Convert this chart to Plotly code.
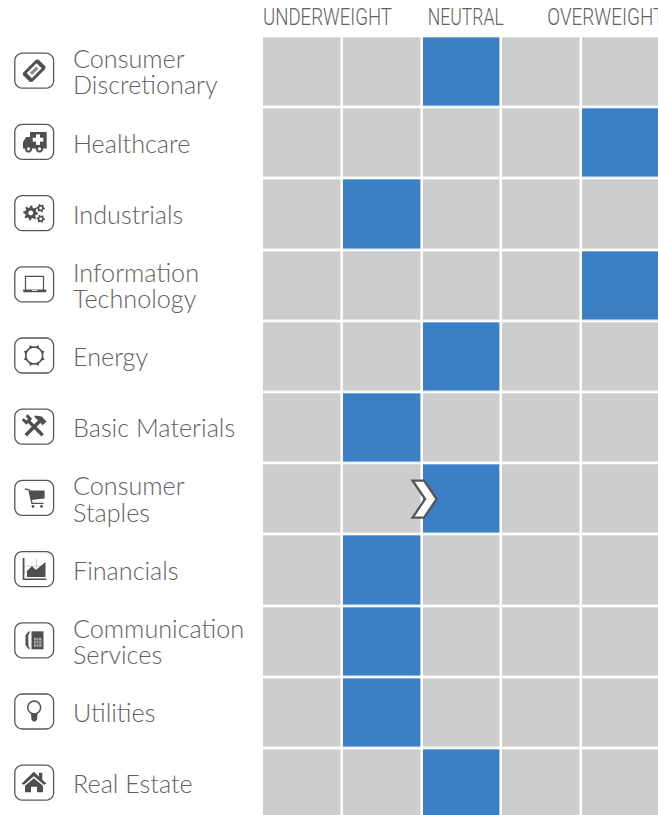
import math
import plotly.graph_objects as go

W, H = 658, 815
sectors = [
    ["Consumer", "Discretionary"], ["Healthcare"], ["Industrials"],
    ["Information", "Technology"], ["Energy"], ["Basic Materials"],
    ["Consumer", "Staples"], ["Financials"], ["Communication", "Services"],
    ["Utilities"], ["Real Estate"],
]
positions = [2, 4, 1, 4, 2, 1, 2, 1, 1, 1, 2]
previous_row = 6
previous_col = 2
headers = ["UNDERWEIGHT", "NEUTRAL", "OVERWEIGHT"]
header_x = [327.5, 465.5, 605.5]
header_w = [129, 76, 117]

GRAY, BLUE, DARK, TXT = "#CDCDCE", "#3B80C4", "#4D4F50", "#5F6163"
LEFT, TOP, PX, PY = 262, 36.3, 79.8, 71.2
z = [[1 if c == p else 0 for c in range(5)] for p in positions]

fig = go.Figure(go.Heatmap(
    z=z, x=list(range(5)), y=list(range(len(sectors))),
    colorscale=[[0, GRAY], [1, BLUE]], zmin=0, zmax=1, showscale=False,
    xgap=2.6, ygap=2.6, hoverinfo="skip"))

X = lambda v: v / W
Y = lambda v: 1 - v / H
shapes = []


def poly(pts, fill=DARK, line=None, lw=0, close=True):
    d = "M" + " L".join(f"{X(a):.5f},{Y(b):.5f}" for a, b in pts) + (" Z" if close else "")
    shapes.append(dict(type="path", xref="paper", yref="paper", path=d,
                       fillcolor=fill if close else "rgba(0,0,0,0)",
                       line=dict(color=line or "rgba(0,0,0,0)", width=lw)))


def circ(cx, cy, r, **k):
    poly([(cx + r * math.cos(i * math.pi / 14), cy + r * math.sin(i * math.pi / 14)) for i in range(28)], **k)


def rrect(x0, y0, x1, y1, r):
    pts = []
    for cx, cy, a in [(x1 - r, y0 + r, -90), (x1 - r, y1 - r, 0), (x0 + r, y1 - r, 90), (x0 + r, y0 + r, 180)]:
        for i in range(7):
            t = math.radians(a + i * 15)
            pts.append((cx + r * math.cos(t), cy + r * math.sin(t)))
    poly(pts, fill="white", line="#55585A", lw=1.3)


def gear(cx, cy, r, teeth, hole, col=DARK):
    pts = []
    for i in range(teeth * 4):
        t = 2 * math.pi * i / (teeth * 4)
        pts.append((cx + (r if i % 4 < 2 else r * .72) * math.cos(t), cy + (r if i % 4 < 2 else r * .72) * math.sin(t)))
    poly(pts, fill=col)
    circ(cx, cy, hole, fill="white")


def rect(x0, y0, x1, y1, **k):
    poly([(x0, y0), (x1, y0), (x1, y1), (x0, y1)], **k)


def rot(cx, cy, pts, deg):
    t = math.radians(deg)
    return [(cx + a * math.cos(t) - b * math.sin(t), cy + a * math.sin(t) + b * math.cos(t)) for a, b in pts]


CX = 34.2
CY0, CP = 70.7, 71.2
for i in range(len(sectors)):
    rrect(14.8, CY0 + i * CP - 17.5, 53.6, CY0 + i * CP + 17.5, 7.5)
cy = lambda i: CY0 + i * CP

# ticket
c = cy(0)
poly(rot(CX, c, [(-11, -5), (-9, -6.5), (9, -6.5), (11, -5), (11, 5), (9, 6.5), (-9, 6.5), (-11, 5)], -45))
poly(rot(CX, c, [(-7, -3.6), (7, -3.6), (7, 3.6), (-7, 3.6)], -45), fill="white")
poly(rot(CX, c, [(-4.5, -1.6), (4.5, -1.6), (4.5, 1.6), (-4.5, 1.6)], -45), fill="#8a8c8e")
# ambulance
c = cy(1)
poly([(30, c - 10), (46.7, c - 10), (46.7, c + 6.5), (23, c + 6.5), (23, c + 0), (26, c - 5), (30, c - 5)])
rect(36, c - 7.5, 40, c + 3, fill="white")
rect(32.7, c - 4.2, 43.3, c - .3, fill="white")
for wx in (28.5, 39.5):
    circ(wx, c + 7, 3.6, fill=DARK)
    circ(wx, c + 7, 1.6, fill="white")
# gears
c = cy(2)
gear(30.7, c - .2, 7.5, 8, 2.4)
gear(40.7, c - 5, 4.2, 6, 1.4)
gear(40.7, c + 5.7, 4.2, 6, 1.4)
# laptop
c = cy(3)
rect(25.5, c - 8, 43.5, c + 6, fill="white", line=DARK, lw=1.2)
poly([(22.8, c + 5.5), (46.8, c + 5.5), (46, c + 8), (23.6, c + 8)])
rect(32, c + 5.8, 37, c + 6.6, fill="white")
# energy
c = cy(4)
for k in range(8):
    t = k * math.pi / 4 + math.pi / 8
    poly([(CX + 11.3 * math.cos(t), c + 11.3 * math.sin(t)),
          (CX + 8 * math.cos(t + .32), c + 8 * math.sin(t + .32)),
          (CX + 8 * math.cos(t - .32), c + 8 * math.sin(t - .32))])
circ(CX, c, 8.4, fill="white", line=DARK, lw=1.6)
# tools: wrench (up-left head) and hammer (up-right head)
c = cy(5)
poly(rot(CX, c, [(-12, -1.7), (9, -1.7), (9, 1.7), (-12, 1.7)], 225))
poly(rot(CX, c, [(7, -4.2), (13.5, -4.2), (13.5, -1.4), (10, -1.2), (10, 1.2), (13.5, 1.4), (13.5, 4.2), (7, 4.2)], 225))
poly(rot(CX, c, [(-12, -1.7), (8, -1.7), (8, 1.7), (-12, 1.7)], -45))
poly(rot(CX, c, [(7, -7), (9, -7), (12.5, -2), (12.5, 5), (7, 5)], -45))
# cart
c = cy(6)
poly([(24.8, c - 9), (29, c - 8), (32, c + 5.5), (43.5, c + 5.5)], line=DARK, lw=1.4, close=False)
poly([(29, c - 7.5), (44.6, c - 7.5), (44.6, c + .5), (31, c + 2)])
circ(33, c + 8.5, 1.4, fill=DARK)
circ(41.5, c + 8.5, 1.4, fill=DARK)
# financials
c = cy(7)
for g in (-3, 3):
    poly([(30.5 + g * 2, c - 11), (30.5 + g * 2, c + 5)], line="#C8C9CA", lw=.8, close=False)
    poly([(25, c + g), (45, c + g)], line="#C8C9CA", lw=.8, close=False)
poly([(23.5, c - 11), (23.5, c + 10.2), (46.3, c + 10.2)], line=DARK, lw=1.6, close=False)
poly([(27, c + 8), (27, c + 2), (32, c - 3), (36, c + 1), (45.5, c - 7), (45.5, c + 8)])
# communication
c = cy(8)
poly([(28.8, c - 9), (25.5, c - 5), (25.5, c + 5), (28.8, c + 9), (30, c + 8.5), (28.3, c + 5), (28.3, c - 5), (30, c - 8.5)])
rect(31.5, c - 9, 43.5, c + 9)
rect(34, c - 2.5, 41.5, c + 6.5, fill="#A9ABAC")
for a in (36.3, 38.8):
    poly([(a, c - 2.5), (a, c + 6.5)], line=DARK, lw=.7, close=False)
for b in (.5, 3.5):
    poly([(34, c + b), (41.5, c + b)], line=DARK, lw=.7, close=False)
# bulb
c = cy(9)
circ(CX, c - 4, 6.4, fill="white", line=DARK, lw=1.5)
poly([(31, c + 2), (37.5, c + 2), (37, c + 8), (35.5, c + 10), (33, c + 10), (31.5, c + 8)])
# house
c = cy(10)
rect(39, c - 10, 42.3, c - 3)
poly([(33.8, c - 11), (46.5, c + 1), (44, c + 2), (33.8, c - 6.5), (24, c + 2), (21.5, c + 1)])
poly([(33.8, c - 4.5), (43, c + 3), (43, c + 9.5), (37, c + 9.5), (37, c + 4), (31, c + 4), (31, c + 9.5), (25, c + 9.5), (25, c + 3)])

# previous-position chevron: placed on the boundary left of the previous column
ax = LEFT + PX * previous_col + 1.5
ay = TOP + PY * (previous_row + .5)
poly([(ax - 10.5, ay - 18.5), (ax + 1, ay - 18.5), (ax + 13.5, ay), (ax + 1, ay + 18.5), (ax - 10.5, ay + 18.5), (ax + 2, ay)],
     fill="white", line="#55585A", lw=2.4)

ann = []
for i, lines in enumerate(sectors):
    ys = [cy(i) + .7] if len(lines) == 1 else [cy(i) - 12.8, cy(i) + 13.7]
    for t, yy in zip(lines, ys):
        ann.append(dict(x=X(70.7), y=Y(yy), xref="paper", yref="paper", text=t, showarrow=False,
                        xanchor="left", yanchor="middle",
                        font=dict(family="Lato", size=25.2, weight=300, color=TXT)))
for t, xx in zip(headers, header_x):
    ann.append(dict(x=X(xx), y=Y(17), xref="paper", yref="paper", text=t, showarrow=False,
                    xanchor="center", yanchor="middle",
                    font=dict(family="Roboto", size=23.5, weight=300, color=TXT)))

fig.update_layout(
    width=W, height=H, margin=dict(l=0, r=0, t=0, b=0), paper_bgcolor="white", plot_bgcolor="white",
    xaxis=dict(domain=[LEFT / W, 1], range=[-.5, (W - LEFT) / PX - .5], visible=False),
    yaxis=dict(domain=[0, 1 - TOP / H], range=[(H - TOP) / PY - .5, -.5], visible=False),
    shapes=shapes, annotations=ann, showlegend=False)

widths = dict(zip(headers, header_w))
post = """
document.documentElement.style.overflow='hidden';
document.body.style.margin='0';
var w=%s;
document.querySelectorAll('.annotation-text').forEach(function(t){
  var k=t.textContent;
  if(w[k]){t.setAttribute('textLength',w[k]);t.setAttribute('lengthAdjust','spacingAndGlyphs');}
});
""" % str(widths).replace("'", '"')
fig.write_html("out.html", config={"displayModeBar": False}, post_script=post)
